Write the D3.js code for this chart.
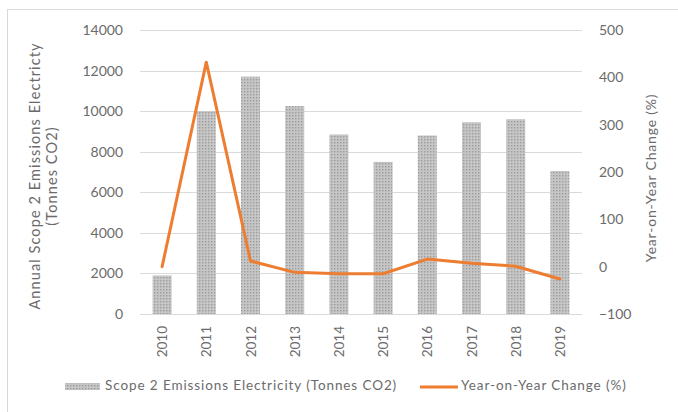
<!DOCTYPE html>
<html>
<head>
<meta charset="utf-8">
<script src="https://cdn.jsdelivr.net/npm/d3@7"></script>
<style>
  html, body { margin: 0; padding: 0; background: #fff; }
  svg { display: block; font-family: Lato, "Noto Sans", sans-serif; }
</style>
</head>
<body>
<svg id="chart" width="678" height="412"></svg>
<script>
// Scope 2 electricity emissions by year, with year-on-year change
const years = ["2010", "2011", "2012", "2013", "2014", "2015", "2016", "2017", "2018", "2019"];
const emissions = [1900, 10000, 11700, 10250, 8850, 7500, 8800, 9450, 9600, 7050];
const yoyChange = [0, 432, 12, -12, -15, -15, 16, 7, 1, -26];
const leftTicks = [0, 2000, 4000, 6000, 8000, 10000, 12000, 14000];
const rightTicks = [-100, 0, 100, 200, 300, 400, 500];

const svg = d3.select("#chart");
const W = 678, H = 412;
const plot = { left: 140, right: 582, top: 30, bottom: 314 };
const textColor = "#6b6b6b";
const gridColor = "#dadada";
const orange = "#ED7D31";

// outer chart frame
svg.append("rect")
  .attr("x", 7.5).attr("y", 9.5)
  .attr("width", W).attr("height", H)
  .attr("fill", "#fff").attr("stroke", "#d9d9d9");

// dotted fill used for the bars
const defs = svg.append("defs");
const pat = defs.append("pattern")
  .attr("id", "dots").attr("patternUnits", "userSpaceOnUse")
  .attr("width", 3).attr("height", 3);
pat.append("rect").attr("width", 3).attr("height", 3).attr("fill", "#c6c6c6");
pat.append("rect").attr("x", 1).attr("y", 1).attr("width", 1.4).attr("height", 1.4).attr("fill", "#9c9c9c");

const x = d3.scaleBand().domain(years)
  .range([plot.left, plot.right])
  .paddingInner(0.57).paddingOuter(0.285);
const yL = d3.scaleLinear().domain([0, 14000]).range([plot.bottom, plot.top]);
const yR = d3.scaleLinear().domain([-100, 500]).range([plot.bottom, plot.top]);

// horizontal gridlines
svg.append("g").selectAll("line").data(leftTicks).join("line")
  .attr("x1", plot.left).attr("x2", plot.right)
  .attr("y1", d => Math.round(yL(d)) + 0.5).attr("y2", d => Math.round(yL(d)) + 0.5)
  .attr("stroke", gridColor).attr("stroke-width", 1);

// left axis
const axL = svg.append("g").attr("transform", `translate(${plot.left - 17},0)`)
  .call(d3.axisLeft(yL).tickValues(leftTicks).tickSize(0).tickPadding(0).tickFormat(d3.format("d")));
axL.select(".domain").remove();
axL.selectAll("text").attr("fill", textColor).attr("font-size", 14).attr("font-family", "Lato, sans-serif");

// right axis
const axR = svg.append("g").attr("transform", `translate(${plot.right + 17},0)`)
  .call(d3.axisRight(yR).tickValues(rightTicks).tickSize(0).tickPadding(0).tickFormat(d3.format("d")));
axR.select(".domain").remove();
axR.selectAll("text").attr("fill", textColor).attr("font-size", 14).attr("font-family", "Lato, sans-serif");

// bars
svg.append("g").selectAll("rect").data(years).join("rect")
  .attr("x", d => x(d))
  .attr("width", x.bandwidth())
  .attr("y", (d, i) => yL(emissions[i]))
  .attr("height", (d, i) => yL(0) - yL(emissions[i]))
  .attr("fill", "url(#dots)");

// year-on-year line
const line = d3.line()
  .x((d, i) => x(years[i]) + x.bandwidth() / 2)
  .y(d => yR(d));
svg.append("path").datum(yoyChange)
  .attr("d", line)
  .attr("fill", "none").attr("stroke", orange)
  .attr("stroke-width", 3).attr("stroke-linejoin", "round").attr("stroke-linecap", "round");

// category labels, rotated
svg.append("g").selectAll("text").data(years).join("text")
  .attr("transform", d => `translate(${x(d) + x.bandwidth() / 2 + 5},${plot.bottom + 12}) rotate(-90)`)
  .attr("text-anchor", "end")
  .attr("fill", textColor).attr("font-size", 13.5)
  .text(d => d);

// axis titles
const lt = svg.append("text")
  .attr("transform", `translate(40,${(plot.top + plot.bottom) / 2 + 4}) rotate(-90)`)
  .attr("text-anchor", "middle").attr("fill", textColor).attr("font-size", 14.5)
  .attr("letter-spacing", 1.1);
lt.append("tspan").attr("x", 0).attr("dy", 0).text("Annual Scope 2 Emissions Electricty");
lt.append("tspan").attr("x", 0).attr("dy", 17).text("(Tonnes CO2)");

svg.append("text")
  .attr("transform", `translate(656,${(plot.top + plot.bottom) / 2 + 6}) rotate(-90)`)
  .attr("text-anchor", "middle").attr("fill", textColor).attr("font-size", 14)
  .attr("letter-spacing", 0.8)
  .text("Year-on-Year Change (%)");

// legend
const lg = svg.append("g");
lg.append("rect").attr("x", 65).attr("y", 383).attr("width", 35).attr("height", 7).attr("fill", "url(#dots)");
lg.append("text").attr("x", 105).attr("y", 387).attr("dominant-baseline", "middle")
  .attr("fill", textColor).attr("font-size", 13.5).attr("letter-spacing", 0.9)
  .text("Scope 2 Emissions Electricity (Tonnes CO2)");
lg.append("line").attr("x1", 420).attr("x2", 458).attr("y1", 387).attr("y2", 387)
  .attr("stroke", orange).attr("stroke-width", 3);
lg.append("text").attr("x", 461).attr("y", 387).attr("dominant-baseline", "middle")
  .attr("fill", textColor).attr("font-size", 13.5).attr("letter-spacing", 0.9)
  .text("Year-on-Year Change (%)");
</script>
</body>
</html>
